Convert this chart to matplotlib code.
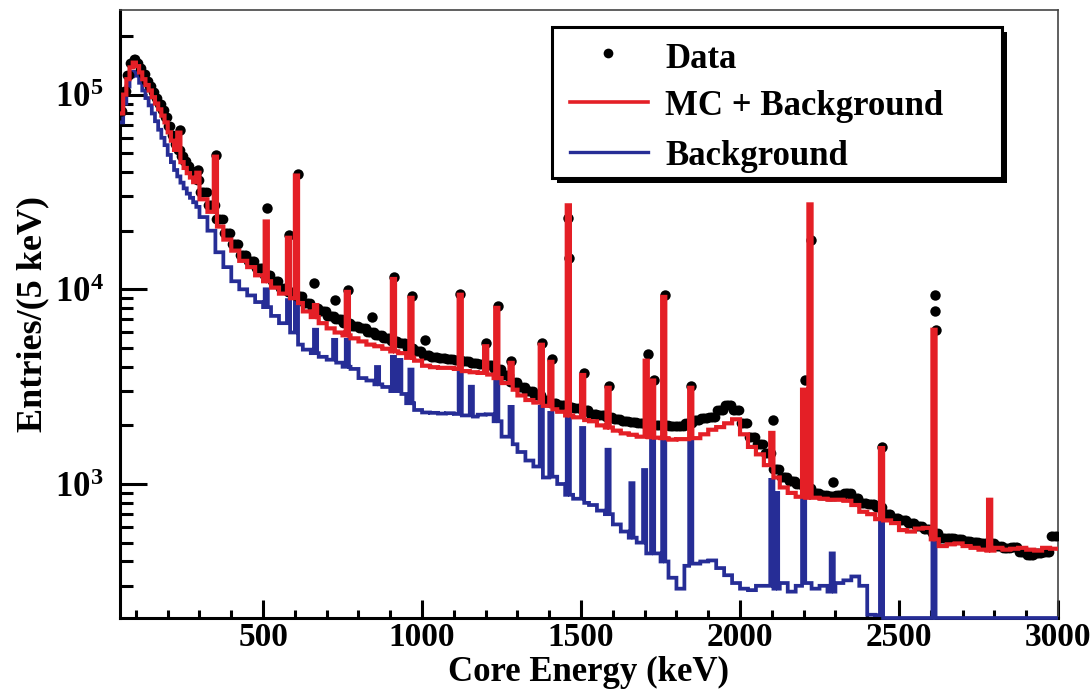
import numpy as np
import matplotlib
matplotlib.use("Agg")
import matplotlib.pyplot as plt
from matplotlib.ticker import MultipleLocator, LogLocator, NullFormatter, FixedLocator, FixedFormatter
from matplotlib.patches import Rectangle
from matplotlib.lines import Line2D

plt.rcParams['font.family'] = ['Liberation Serif', 'DejaVu Serif']
plt.rcParams['font.weight'] = 'bold'
plt.rcParams['mathtext.fontset'] = 'custom'
plt.rcParams['mathtext.rm'] = 'Liberation Serif:bold'
plt.rcParams['mathtext.it'] = 'Liberation Serif:bold:italic'
plt.rcParams['mathtext.bf'] = 'Liberation Serif:bold'

# ---------------- data ----------------
E_MIN, E_SPLIT, E_MAX = 50, 300, 3000
LOW_W = 10         # keV, continuum bins below 300 keV
HIGH_W = 25        # keV, continuum bins above 300 keV
FINE_W = 5         # keV, histogram bins

# MC + Background continuum
mc_low = [80000, 100000, 120000, 138000, 146000, 140000, 130000, 120000, 112000, 105000,
          97000, 90000, 84000, 78000, 72000, 64000, 58000, 52000, 48000, 45000,
          42000, 39500, 37500, 35500, 33600]
mc_high = [29000, 25000, 21000, 18000, 15800, 14000, 13000, 11800, 11000, 10200,
           9500, 9000, 8500, 7700, 7200, 6700, 6300, 6000, 5800, 5600,
           5400, 5200, 5100, 4950, 4800, 4700, 4450, 4300, 4050, 3980,
           3950, 3950, 3900, 3800, 3750, 3720, 3650, 3500, 3300, 3050,
           2850, 2700, 2620, 2520, 2420, 2350, 2250, 2200, 2130, 2100,
           2000, 1950, 1880, 1820, 1790, 1750, 1740, 1730, 1720, 1690,
           1700, 1700, 1720, 1800, 1900, 1960, 2050, 2150, 1800, 1550,
           1420, 1250, 1080, 960, 900, 860, 850, 850, 840, 830,
           830, 820, 780, 720, 700, 660, 650, 630, 580, 570,
           590, 595, 520, 480, 490, 495, 480, 470, 460, 455,
           470, 460, 465, 470, 460, 455, 470, 465]

# Data continuum
data_low = [82000, 104000, 126000, 145000, 152000, 146000, 137000, 127000, 118000, 111000,
            103000, 96000, 89000, 83000, 77000, 69000, 62000, 56000, 52000, 48500,
            45500, 43000, 40500, 38500, 36500]
data_high = [31500, 27000, 23000, 19500, 17000, 15000, 14000, 12800, 11800, 11000,
             10200, 9700, 9200, 8500, 8000, 7700, 7300, 7000, 6700, 6500,
             6300, 6000, 5800, 5600, 5400, 5300, 5000, 4800, 4600, 4500,
             4450, 4400, 4350, 4300, 4200, 4150, 4100, 3900, 3650, 3350,
             3150, 3000, 2850, 2700, 2620, 2550, 2480, 2450, 2400, 2300,
             2250, 2200, 2150, 2100, 2070, 2050, 2030, 2000, 2000, 1980,
             1980, 2050, 2130, 2180, 2220, 2400, 2550, 2400, 2050, 1750,
             1600, 1450, 1200, 1090, 1040, 1000, 950, 900, 880, 870,
             880, 900, 850, 800, 790, 760, 700, 670, 650, 630,
             610, 590, 560, 530, 530, 520, 510, 505, 500, 495,
             480, 470, 475, 450, 430, 440, 450, 540]

# Background continuum (0 = empty bin)
bkg_low = [72000, 90000, 110000, 124000, 131000, 125000, 115000, 105000, 96000, 88000,
           80000, 73000, 66000, 60000, 55000, 49000, 45000, 41000, 38000, 35300,
           33000, 31000, 29500, 28000, 26500]
bkg_high = [23500, 20000, 15500, 13000, 11000, 10000, 9300, 8600, 8100, 7300,
            6700, 6000, 5200, 4900, 4700, 4500, 4350, 4200, 4000, 3900,
            3500, 3400, 3250, 3150, 3000, 2900, 2600, 2400, 2330, 2320,
            2300, 2310, 2290, 2250, 2220, 2270, 2280, 2100, 1750, 1600,
            1460, 1320, 1230, 1080, 1090, 1000, 880, 840, 800, 780,
            730, 700, 620, 570, 530, 500, 440, 440, 400, 330,
            290, 380, 390, 400, 405, 370, 340, 310, 290, 285,
            300, 300, 290, 310, 280, 300, 310, 290, 300, 280,
            310, 320, 335, 300, 213, 212, 0, 0, 0, 0,
            0, 0, 0, 0, 0, 0, 0, 0, 0, 0,
            0, 0, 0, 0, 0, 0, 0, 0]

# Gamma lines (energy keV, bin content)
mc_peak_E = [239, 295, 352, 511, 583, 609, 665, 768, 911, 969, 1120, 1200, 1238, 1281,
             1377, 1408, 1460, 1509, 1588, 1709, 1728, 1764, 1847, 2104, 2204, 2223,
             2448, 2614, 2785]
mc_peak_v = [63800, 39700, 48000, 22300, 18400, 38400, 8300, 9700, 11300, 9040, 9380, 5100,
             8030, 4190, 5190, 4240, 27000, 3630, 3120, 4300, 3400, 9140, 3120, 1830, 3050,
             27300, 1530, 6200, 830]

bkg_peak_E = [511, 583, 609, 665, 727, 768, 860, 911, 934, 969, 1120, 1155, 1238, 1281,
              1377, 1408, 1460, 1509, 1588, 1662, 1703, 1728, 1764, 1847, 2104, 2118,
              2204, 2293, 2448, 2614]
bkg_peak_v = [10000, 8800, 11600, 6200, 5500, 5500, 3990, 4500, 4340, 3870, 3720, 3160,
              3720, 2490, 2490, 2320, 2320, 1940, 1500, 1010, 1180, 1680, 1680, 1680,
              1050, 900, 900, 440, 640, 560]

data_peak_E = [239, 295, 352, 511, 583, 609, 661, 727, 768, 843, 911, 969, 1010, 1120,
               1200, 1238, 1281, 1377, 1408, 1460, 1463, 1509, 1588, 1709, 1728, 1764,
               1847, 2104, 2204, 2223, 2292, 2448, 2612, 2614, 2616]
data_peak_v = [66000, 41000, 49000, 26200, 19000, 39000, 10800, 8800, 9900, 7200, 11500,
               9200, 5500, 9500, 5300, 8200, 4300, 5300, 4400, 23300, 14500, 3700, 3200,
               4650, 3430, 9300, 3200, 2130, 3430, 17900, 1020, 1550, 9400, 7700, 6200]

# ---------------- build histograms ----------------
edges = np.arange(E_MIN, E_MAX + FINE_W, FINE_W)
fine_c = edges[:-1] + FINE_W / 2
low_c = np.arange(E_MIN + LOW_W / 2, E_SPLIT, LOW_W)
high_c = np.arange(E_SPLIT + HIGH_W / 2, E_MAX, HIGH_W)
assert len(mc_low) == len(data_low) == len(bkg_low) == len(low_c)
assert len(mc_high) == len(data_high) == len(bkg_high) == len(high_c)


def fine_hist(low, high, pe=(), pv=()):
    h = np.concatenate([np.repeat(np.asarray(low, float), LOW_W // FINE_W),
                        np.repeat(np.asarray(high, float), HIGH_W // FINE_W)])
    for e, v in zip(pe, pv):
        i = int((e - E_MIN) // FINE_W)
        h[i - 1:i + 1] = np.maximum(h[i - 1:i + 1], v)
    return h


YMIN, YMAX = 205, 2.72e5
mc_h = fine_hist(mc_low, mc_high, mc_peak_E, mc_peak_v)
bkg_h = fine_hist(bkg_low, bkg_high, bkg_peak_E, bkg_peak_v)
bkg_draw = np.clip(bkg_h, YMIN, None)
data_h = fine_hist(data_low, data_high)

RED = '#e41f26'
BLUE = '#262d96'

# ---------------- figure ----------------
fig = plt.figure(figsize=(10.92, 6.97), dpi=100)
ax = fig.add_axes([120 / 1092, 1 - 618 / 697, 938 / 1092, 608 / 697])

ax.stairs(bkg_draw, edges, baseline=None, color=BLUE, lw=2.7, zorder=3, clip_on=False)
ax.plot(fine_c, data_h, 'o', color='black', ms=7, mew=0, zorder=3.2)
ax.plot(data_peak_E, data_peak_v, 'o', color='black', ms=7.5, mew=0, zorder=3.2)
ax.stairs(mc_h, edges, baseline=None, color=RED, lw=3.0, zorder=3.5)

ax.set_yscale('log')
ax.set_xlim(E_MIN, E_MAX)
ax.set_ylim(YMIN, YMAX)

ax.xaxis.set_major_locator(MultipleLocator(500))
ax.xaxis.set_minor_locator(MultipleLocator(100))
ax.yaxis.set_major_locator(FixedLocator([1e3, 1e4, 1e5]))
ax.yaxis.set_major_formatter(FixedFormatter([r'$10^{3}$', r'$10^{4}$', r'$10^{5}$']))
ax.yaxis.set_minor_locator(LogLocator(base=10, subs=np.arange(2, 10)))
ax.yaxis.set_minor_formatter(NullFormatter())

ax.tick_params(axis='both', which='both', direction='in', top=False, right=False,
               width=2.2, color='black')
ax.tick_params(axis='y', which='major', length=19.5, pad=12, labelsize=25)
ax.tick_params(axis='y', which='minor', length=9.5)
ax.tick_params(axis='x', which='major', length=13, pad=3, labelsize=24)
ax.tick_params(axis='x', which='minor', length=6)

for s in ('left', 'bottom'):
    ax.spines[s].set_linewidth(2.2)
    ax.spines[s].set_color('black')
for s in ('top', 'right'):
    ax.spines[s].set_linewidth(1.2)
    ax.spines[s].set_color('#444444')

ax.set_xlabel('Core Energy (keV)', fontsize=25, fontweight='bold')
ax.xaxis.set_label_coords(0.5, -0.062)
ax.set_ylabel('Entries/(5 keV)', fontsize=26, fontweight='bold')
ax.yaxis.set_label_coords(-0.075, 0.5)

# ---------------- legend (ROOT style box with shadow) ----------------
bx, by, bw, bh = 0.4606, 0.7237, 0.4797, 0.2483
ax.add_patch(Rectangle((bx + 0.0058, by - 0.0090), bw, bh, transform=ax.transAxes,
                       fc='black', ec='black', lw=0, zorder=9, clip_on=False))
ax.add_patch(Rectangle((bx, by), bw, bh, transform=ax.transAxes,
                       fc='white', ec='black', lw=2.2, zorder=10, clip_on=False))
ax.add_line(Line2D([0.5203], [0.929], marker='o', ms=7, color='black', mew=0,
                   transform=ax.transAxes, zorder=11))
ax.add_line(Line2D([0.4797, 0.5629], [0.8487, 0.8487], color=RED, lw=2.6,
                   transform=ax.transAxes, zorder=11))
ax.add_line(Line2D([0.4797, 0.5629], [0.7664, 0.7664], color=BLUE, lw=2.4,
                   transform=ax.transAxes, zorder=11))
for txt, yb in (('Data', 0.9046), ('MC + Background', 0.8273), ('Background', 0.7451)):
    ax.text(0.5810, yb, txt, transform=ax.transAxes, fontsize=25, fontweight='bold',
            va='baseline', ha='left', zorder=12)

fig.savefig('out.png', dpi=100)
